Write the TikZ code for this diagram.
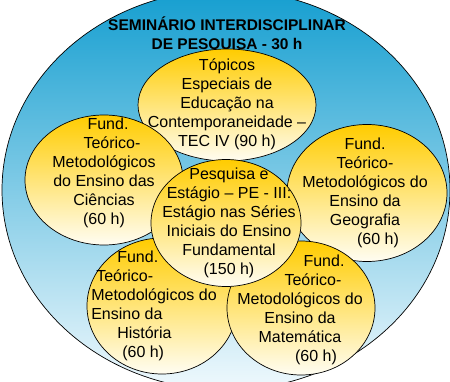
\documentclass[tikz,border=0pt]{standalone}
\usepackage{fontspec}
\setmainfont{Liberation Sans}
\usetikzlibrary{shapes.geometric}

\definecolor{bluetop}{RGB}{20,158,208}
\definecolor{bluebot}{RGB}{240,249,253}
\definecolor{goldtop}{RGB}{255,204,0}
\definecolor{goldbot}{RGB}{255,253,242}

\begin{document}
\begin{tikzpicture}[x=1pt,y=-1pt,line width=0.7pt,
    outer node/.style={ellipse,draw,shade,top color=bluetop,bottom color=bluebot,inner sep=0pt},
    main node/.style={ellipse,draw,shade,top color=goldtop,bottom color=goldbot,inner sep=0pt},
    text node/.style={align=center,inner sep=0pt,font=\fontsize{16}{19}\selectfont}]

  \useasboundingbox (0,0) rectangle (450,382);
  \clip (0,0) rectangle (450,382);

  \node[outer node,minimum width=448pt,minimum height=400pt] (0) at (226,190) {};
  \node[text node,font=\fontsize{15.5}{19}\selectfont\bfseries] (title) at (227,35)
    {SEMINÁRIO INTERDISCIPLINAR\\DE PESQUISA - 30 h};

  % the six courses
  \node[main node,minimum width=178pt,minimum height=112pt] (1) at (227,105) {};
  \node[text node] (1t) at (227,104)
    {Tópicos\\Especiais de\\Educação na\\Contemporaneidade –\\TEC IV (90 h)};

  \node[main node,minimum width=158pt,minimum height=130pt] (2) at (104,180) {};
  \node[text node] (2t) at (104,173)
    {\hspace*{8pt}Fund.\\\hspace*{16pt}Teórico-\\Metodológicos\\do Ensino das\\Ciências\\(60 h)};

  \node[main node,minimum width=160pt,minimum height=137pt] (3) at (367,193) {};
  \node[text node] (3t) at (365,193)
    {Fund.\\Teórico-\\Metodológicos do\\Ensino da\\Geografia\\\hspace*{26pt}(60 h)};

  \node[main node,minimum width=150pt,minimum height=136pt] (4) at (162,306) {};
  \node[text node,align=left] (4t) at (154,306)
    {\hspace*{26pt}Fund.\\\hspace*{5pt}Teórico-\\Metodológicos do\\Ensino da\\\hspace*{26pt}História\\\hspace*{31pt}(60 h)};

  \node[main node,minimum width=148pt,minimum height=134pt] (5) at (301,308) {};
  \node[text node] (5t) at (300,310)
    {\hspace*{48pt}Fund.\\\hspace*{26pt}Teórico-\\Metodológicos do\\Ensino da\\Matemática\\\hspace*{32pt}(60 h)};

  \node[main node,minimum width=150pt,minimum height=127pt] (6) at (226,223) {};
  \node[text node] (6t) at (229,222.5)
    {Pesquisa e\\Estágio – PE - III:\\Estágio nas Séries\\Iniciais do Ensino\\Fundamental\\(150 h)};
\end{tikzpicture}
\end{document}
